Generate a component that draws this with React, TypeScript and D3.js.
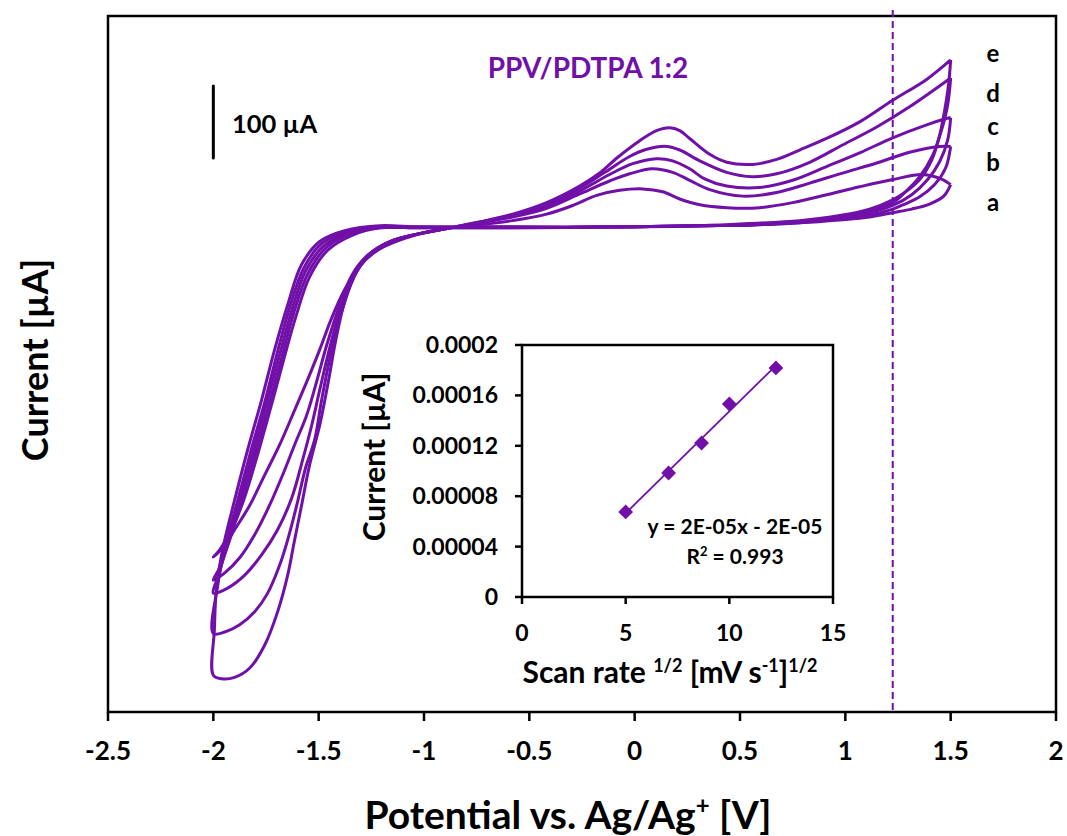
import React from 'react';
import * as d3 from 'd3';

type P = [number, number];

// Potential [V], current [µA] (arbitrary zero at the flat baseline)
const CURVE_E: P[] = [
  [1.5, 233], [1.49, 199], [1.472, 164], [1.448, 129], [1.41, 94], [1.353, 67], [1.282, 49], [1.225, 39], [1.115, 26], [0.973, 17], [0.783, 10], [0.546, 6], [0.309, 3], [-0.166, 1], [-0.641, 1], [-1.021, 1], [-1.21, 3],
  [-1.377, -4], [-1.495, -19], [-1.581, -51], [-1.647, -107], [-1.709, -169], [-1.771, -239], [-1.837, -308], [-1.899, -378], [-1.951, -440], [-1.984, -496], [-1.995, -558], [-2.0, -621],
  [-1.96, -626], [-1.899, -624], [-1.827, -611], [-1.756, -579], [-1.695, -533], [-1.647, -482], [-1.614, -433], [-1.581, -385], [-1.543, -329], [-1.495, -274], [-1.457, -218], [-1.414, -149], [-1.367, -93], [-1.305, -54], [-1.234, -31], [-1.139, -17], [-1.021, -8], [-0.892, -1],
  [-0.736, 8], [-0.579, 19], [-0.418, 35], [-0.261, 58], [-0.166, 76], [-0.08, 98], [0.024, 121], [0.104, 135], [0.166, 139], [0.214, 135], [0.261, 124], [0.356, 102], [0.437, 91], [0.56, 88], [0.674, 95], [0.783, 108], [0.911, 124], [1.068, 147], [1.225, 177], [1.386, 206], [1.5, 233],
];
const CURVE_D: P[] = [
  [1.5, 208], [1.486, 171], [1.457, 136], [1.415, 101], [1.353, 71], [1.282, 49], [1.225, 35], [1.115, 24], [0.973, 15], [0.783, 8], [0.546, 4], [0.309, 3], [-0.166, 1], [-0.641, 1], [-1.021, 1], [-1.21, 1],
  [-1.367, -6], [-1.486, -22], [-1.571, -56], [-1.638, -111], [-1.695, -172], [-1.756, -242], [-1.823, -311], [-1.884, -378], [-1.941, -440], [-1.979, -496], [-2.0, -563],
  [-1.946, -561], [-1.875, -551], [-1.804, -533], [-1.742, -507], [-1.685, -468], [-1.647, -433], [-1.604, -385], [-1.562, -333], [-1.519, -294], [-1.486, -239], [-1.438, -169], [-1.381, -107], [-1.32, -61], [-1.248, -35], [-1.149, -18], [-1.021, -8], [-0.892, -1],
  [-0.736, 8], [-0.579, 18], [-0.418, 33], [-0.261, 55], [-0.142, 77], [-0.024, 99], [0.057, 109], [0.152, 113], [0.214, 108], [0.309, 93], [0.437, 77], [0.56, 71], [0.674, 75], [0.831, 91], [0.987, 115], [1.149, 140], [1.305, 168], [1.5, 208],
];
const CURVE_C: P[] = [
  [1.5, 153], [1.486, 122], [1.448, 92], [1.391, 67], [1.315, 46], [1.225, 31], [1.115, 21], [0.973, 14], [0.783, 8], [0.546, 4], [0.309, 3], [-0.166, 1], [-0.641, 1], [-1.021, 1], [-1.21, 1],
  [-1.358, -7], [-1.476, -25], [-1.562, -60], [-1.628, -115], [-1.685, -176], [-1.747, -244], [-1.813, -314], [-1.875, -378], [-1.932, -438], [-1.975, -482], [-2.0, -507],
  [-1.932, -500], [-1.851, -482], [-1.771, -454], [-1.695, -419], [-1.628, -375], [-1.576, -322], [-1.533, -274], [-1.495, -225], [-1.448, -167], [-1.391, -107], [-1.329, -63], [-1.258, -36], [-1.153, -18], [-1.021, -8], [-0.892, -1],
  [-0.736, 7], [-0.579, 17], [-0.418, 30], [-0.261, 51], [-0.119, 74], [-0.009, 89], [0.104, 96], [0.18, 93], [0.261, 82], [0.332, 68], [0.437, 58], [0.593, 56], [0.75, 66], [0.911, 85], [1.068, 104], [1.225, 125], [1.386, 143], [1.472, 151], [1.5, 153],
];
const CURVE_B: P[] = [
  [1.5, 113], [1.476, 83], [1.424, 60], [1.353, 43], [1.282, 33], [1.225, 26], [1.115, 18], [0.973, 13], [0.783, 7], [0.546, 4], [0.309, 3], [-0.166, 1], [-0.641, 0], [-1.021, 0], [-1.21, 0],
  [-1.348, -8], [-1.467, -28], [-1.552, -64], [-1.619, -119], [-1.676, -181], [-1.737, -247], [-1.804, -317], [-1.865, -378], [-1.922, -433], [-1.97, -472], [-2.0, -489],
  [-1.946, -479], [-1.875, -458], [-1.804, -426], [-1.733, -385], [-1.671, -343], [-1.614, -301], [-1.557, -260], [-1.514, -218], [-1.462, -163], [-1.4, -107], [-1.339, -64], [-1.267, -38], [-1.163, -19], [-1.021, -8], [-0.892, -1],
  [-0.736, 7], [-0.579, 15], [-0.418, 27], [-0.261, 47], [-0.119, 65], [-0.024, 75], [0.085, 82], [0.18, 77], [0.261, 66], [0.356, 53], [0.513, 44], [0.674, 49], [0.831, 62], [0.987, 76], [1.149, 90], [1.305, 105], [1.448, 113], [1.5, 113],
];
const CURVE_A: P[] = [
  [1.5, 60], [1.467, 44], [1.4, 33], [1.315, 26], [1.225, 21], [1.115, 15], [0.973, 11], [0.783, 7], [0.546, 4], [0.309, 3], [-0.166, 1], [-0.641, 0], [-1.021, 0], [-1.21, 0],
  [-1.339, -10], [-1.457, -31], [-1.543, -68], [-1.609, -124], [-1.666, -183], [-1.728, -250], [-1.794, -319], [-1.856, -378], [-1.913, -419], [-1.97, -447], [-2.0, -457],
  [-1.956, -444], [-1.899, -419], [-1.827, -385], [-1.756, -343], [-1.685, -301], [-1.614, -253], [-1.543, -204], [-1.495, -169], [-1.438, -125], [-1.377, -86], [-1.305, -53], [-1.22, -31], [-1.115, -17], [-0.997, -7], [-0.892, -1],
  [-0.736, 4], [-0.579, 10], [-0.418, 19], [-0.294, 31], [-0.18, 45], [-0.071, 52], [0.038, 54], [0.133, 50], [0.214, 40], [0.309, 32], [0.437, 28], [0.593, 28], [0.75, 35], [0.911, 46], [1.068, 57], [1.225, 67], [1.367, 74], [1.462, 67], [1.5, 60],
];
const CURVES = [CURVE_A, CURVE_B, CURVE_C, CURVE_D, CURVE_E];
const CURVE_LABELS = ['e', 'd', 'c', 'b', 'a'];

const X_TICKS = [-2.5, -2, -1.5, -1, -0.5, 0, 0.5, 1, 1.5, 2];
const DASH_V = 1.225;
const SCALE_BAR_V = -2.0;
const SCALE_BAR_TOP = 197;
const SCALE_BAR_LEN = 100;

// Inset
const INSET_X = [5, 7.071, 8.66, 10, 12.247];
const INSET_Y = [0.0000675, 0.0000984, 0.0001222, 0.0001532, 0.0001818];
const INSET_X_TICKS = [0, 5, 10, 15];
const INSET_Y_TICKS = [0, 0.00004, 0.00008, 0.00012, 0.00016, 0.0002];
const INSET_Y_LABELS = ['0', '0.00004', '0.00008', '0.00012', '0.00016', '0.0002'];

const PURPLE = '#7010a8';
const FONT = "Lato, 'Open Sans', sans-serif";

export default function App() {
  const x = d3.scaleLinear().domain([-2.5, 2]).range([108, 1056]);
  const y = d3.scaleLinear().domain([-672, 294]).range([712, 16]);
  const line = d3.line<P>().x(d => x(d[0])).y(d => y(d[1])).curve(d3.curveCatmullRom.alpha(0.5));

  const ix = d3.scaleLinear().domain([0, 15]).range([522, 833]);
  const iy = d3.scaleLinear().domain([0, 0.0002]).range([597, 345]);

  const mx = d3.mean(INSET_X)!;
  const my = d3.mean(INSET_Y)!;
  const sxy = d3.sum(INSET_X.map((v, i) => (v - mx) * (INSET_Y[i] - my)));
  const sxx = d3.sum(INSET_X.map(v => (v - mx) ** 2));
  const slope = sxy / sxx;
  const icpt = my - slope * mx;
  const x0 = INSET_X[0], x1 = INSET_X[INSET_X.length - 1];
  const diamond = d3.symbol().type(d3.symbolSquare).size(110)()!;

  const labelY = [62, 102, 135, 171, 211];

  return (
    <svg width={1067} height={836} style={{ position: 'absolute', left: 0, top: 0, background: '#fff' }} fontFamily={FONT} fontWeight="bold">
      <rect x={0} y={0} width={1067} height={836} fill="#fff" />
      {/* main frame */}
      <rect x={108} y={16} width={948} height={696} fill="none" stroke="#000" strokeWidth={2.5} />
      {X_TICKS.map(t => (
        <g key={t}>
          <line x1={x(t)} x2={x(t)} y1={712} y2={721} stroke="#000" strokeWidth={2.5} />
          <text x={x(t)} y={760} fontSize={26} textAnchor="middle">{t}</text>
        </g>
      ))}
      <text x={568} y={829} fontSize={39} textAnchor="middle">
        Potential vs. Ag/Ag<tspan fontSize={24} dy={-15}>+</tspan><tspan dy={15}> [V]</tspan>
      </text>
      <text transform="translate(48,360) rotate(-90)" fontSize={36} textAnchor="middle">Current [µA]</text>

      {/* dashed line */}
      <line x1={x(DASH_V)} x2={x(DASH_V)} y1={10} y2={712} stroke={PURPLE} strokeWidth={2} strokeDasharray="7,4" />

      {/* CV curves */}
      {CURVES.map((c, i) => (
        <path key={i} d={line(c)!} fill="none" stroke={PURPLE} strokeWidth={3} strokeLinejoin="round" />
      ))}

      {/* scale bar */}
      <line x1={x(SCALE_BAR_V)} x2={x(SCALE_BAR_V)} y1={y(SCALE_BAR_TOP)} y2={y(SCALE_BAR_TOP - SCALE_BAR_LEN)} stroke="#000" strokeWidth={3} strokeLinecap="round" />
      <text x={232} y={133} fontSize={25.5}>100 µA</text>

      <text x={588} y={78} fontSize={28} textAnchor="middle" fill={PURPLE}>PPV/PDTPA 1:2</text>
      {CURVE_LABELS.map((l, i) => (
        <text key={l} x={993} y={labelY[i]} fontSize={24} textAnchor="middle">{l}</text>
      ))}

      {/* inset */}
      <rect x={522} y={345} width={311} height={252} fill="#fff" stroke="#000" strokeWidth={2.5} />
      {INSET_Y_TICKS.map((t, i) => (
        <g key={t}>
          <line x1={515} x2={522} y1={iy(t)} y2={iy(t)} stroke="#000" strokeWidth={2.5} />
          <text x={498} y={iy(t) + 8} fontSize={23} textAnchor="end">{INSET_Y_LABELS[i]}</text>
        </g>
      ))}
      {INSET_X_TICKS.map(t => (
        <g key={t}>
          <line x1={ix(t)} x2={ix(t)} y1={597} y2={604} stroke="#000" strokeWidth={2.5} />
          <text x={ix(t)} y={641} fontSize={23} textAnchor="middle">{t}</text>
        </g>
      ))}
      <line x1={ix(x0)} y1={iy(slope * x0 + icpt)} x2={ix(x1)} y2={iy(slope * x1 + icpt)} stroke={PURPLE} strokeWidth={1.8} />
      {INSET_X.map((v, i) => (
        <path key={i} d={diamond} transform={`translate(${ix(v)},${iy(INSET_Y[i])}) rotate(45)`} fill={PURPLE} />
      ))}
      <text x={735} y={534} fontSize={21} textAnchor="middle">y = 2E-05x - 2E-05</text>
      <text x={735} y={564} fontSize={21} textAnchor="middle">R<tspan fontSize={13} dy={-8}>2</tspan><tspan dy={8}> = 0.993</tspan></text>
      <text x={670} y={683} fontSize={30} textAnchor="middle">
        Scan rate <tspan fontSize={18} dy={-11}>1/2</tspan><tspan dy={11}> [mV s</tspan><tspan fontSize={18} dy={-11}>-1</tspan><tspan dy={11}>]</tspan><tspan fontSize={18} dy={-11}>1/2</tspan>
      </text>
      <text transform="translate(385,457) rotate(-90)" fontSize={30} textAnchor="middle">Current [µA]</text>
    </svg>
  );
}
